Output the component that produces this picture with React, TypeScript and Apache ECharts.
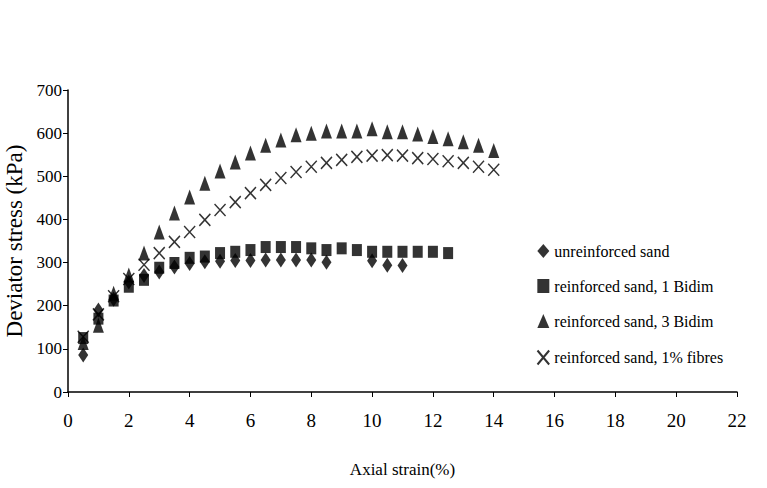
import React, { useEffect, useRef } from "react";
import * as echarts from "echarts";

const seriesNames = [
  "unreinforced sand",
  "reinforced sand, 1 Bidim",
  "reinforced sand, 3 Bidim",
  "reinforced sand, 1% fibres",
];

const strainUnreinforced = [0.5, 1, 1.5, 2, 2.5, 3, 3.5, 4, 4.5, 5, 5.5, 6, 6.5, 7, 7.5, 8, 8.5, 10, 10.5, 11];
const stressUnreinforced = [86, 190, 215, 255, 270, 278, 290, 298, 302, 303, 305, 305, 306, 306, 306, 306, 301, 304, 294, 293];

const strainBidim1 = [0.5, 1, 1.5, 2, 2.5, 3, 3.5, 4, 4.5, 5, 5.5, 6, 6.5, 7, 7.5, 8, 8.5, 9, 9.5, 10, 10.5, 11, 11.5, 12, 12.5];
const stressBidim1 = [125, 170, 212, 244, 260, 288, 299, 311, 314, 322, 325, 329, 336, 336, 336, 333, 329, 333, 329, 325, 325, 325, 325, 325, 322];

const strainBidim3 = [0.5, 1, 1.5, 2, 2.5, 3, 3.5, 4, 4.5, 5, 5.5, 6, 6.5, 7, 7.5, 8, 8.5, 9, 9.5, 10, 10.5, 11, 11.5, 12, 12.5, 13, 13.5, 14];
const stressBidim3 = [115, 155, 229, 271, 322, 371, 415, 452, 484, 512, 533, 554, 572, 584, 596, 600, 605, 605, 605, 610, 603, 603, 598, 592, 587, 580, 572, 560];

const strainFibres = [0.5, 1, 1.5, 2, 2.5, 3, 3.5, 4, 4.5, 5, 5.5, 6, 6.5, 7, 7.5, 8, 8.5, 9, 9.5, 10, 10.5, 11, 11.5, 12, 12.5, 13, 13.5, 14];
const stressFibres = [128, 180, 222, 262, 295, 322, 348, 371, 399, 422, 440, 461, 480, 496, 510, 522, 531, 538, 545, 548, 549, 548, 542, 540, 535, 531, 522, 515];

const zip = (xs: number[], ys: number[]) => xs.map((x, i) => [x, ys[i]]);

const FONT = "Liberation Serif";

export default function App() {
  const ref = useRef<HTMLDivElement>(null);
  useEffect(() => {
    if (!ref.current) return;
    const chart = echarts.init(ref.current, null, { renderer: "svg" });
    chart.setOption({
      animation: false,
      backgroundColor: "#fff",
      textStyle: { fontFamily: FONT, color: "#000" },
      grid: { left: 68, right: 30, top: 90, bottom: 96, containLabel: false, outerBoundsMode: "none" },
      legend: {
        orient: "vertical",
        left: 530,
        top: 238,
        itemGap: 19,
        itemWidth: 12,
        itemHeight: 14,
        textStyle: { fontFamily: FONT, fontSize: 16, color: "#000" },
        data: seriesNames,
      },
      xAxis: {
        type: "value",
        min: 0,
        max: 22,
        interval: 2,
        name: "Axial strain(%)",
        nameLocation: "middle",
        nameGap: 69,
        nameTextStyle: { fontFamily: FONT, fontSize: 17, color: "#000" },
        axisLine: { lineStyle: { color: "#000", width: 1.5 } },
        axisTick: { show: true, length: 5, inside: false, lineStyle: { color: "#000" } },
        axisLabel: { fontFamily: FONT, fontSize: 19, color: "#000", margin: 19 },
        splitLine: { show: false },
      },
      yAxis: {
        type: "value",
        min: 0,
        max: 700,
        interval: 100,
        name: "Deviator stress (kPa)",
        nameLocation: "middle",
        nameGap: 34,
        nameRotate: 90,
        nameTextStyle: { fontFamily: FONT, fontSize: 23, color: "#000" },
        axisLine: { show: true, lineStyle: { color: "#000", width: 1.5 } },
        axisTick: { show: true, length: 5, inside: false, lineStyle: { color: "#000" } },
        axisLabel: { fontFamily: FONT, fontSize: 17, color: "#000", margin: 6 },
        splitLine: { show: false },
      },
      series: [
        {
          name: seriesNames[0],
          type: "scatter",
          symbol: "diamond",
          symbolSize: [10, 15],
          itemStyle: { color: "#000" },
          data: zip(strainUnreinforced, stressUnreinforced),
          z: 2,
        },
        {
          name: seriesNames[1],
          type: "scatter",
          symbol: "rect",
          symbolSize: [10, 12],
          itemStyle: { color: "#000" },
          data: zip(strainBidim1, stressBidim1),
          z: 3,
        },
        {
          name: seriesNames[2],
          type: "scatter",
          symbol: "triangle",
          symbolSize: [11, 15],
          itemStyle: { color: "#000" },
          data: zip(strainBidim3, stressBidim3),
          z: 4,
        },
        {
          name: seriesNames[3],
          type: "scatter",
          symbol: "path://M0,0L10,12M10,0L0,12",
          symbolSize: [11, 12],
          itemStyle: { color: "none", borderColor: "#000", borderWidth: 1.5 },
          data: zip(strainFibres, stressFibres),
          z: 5,
        },
      ],
    });
    return () => chart.dispose();
  }, []);
  return <div ref={ref} style={{ width: 767, height: 488, position: "absolute", left: 0, top: 0 }} />;
}
